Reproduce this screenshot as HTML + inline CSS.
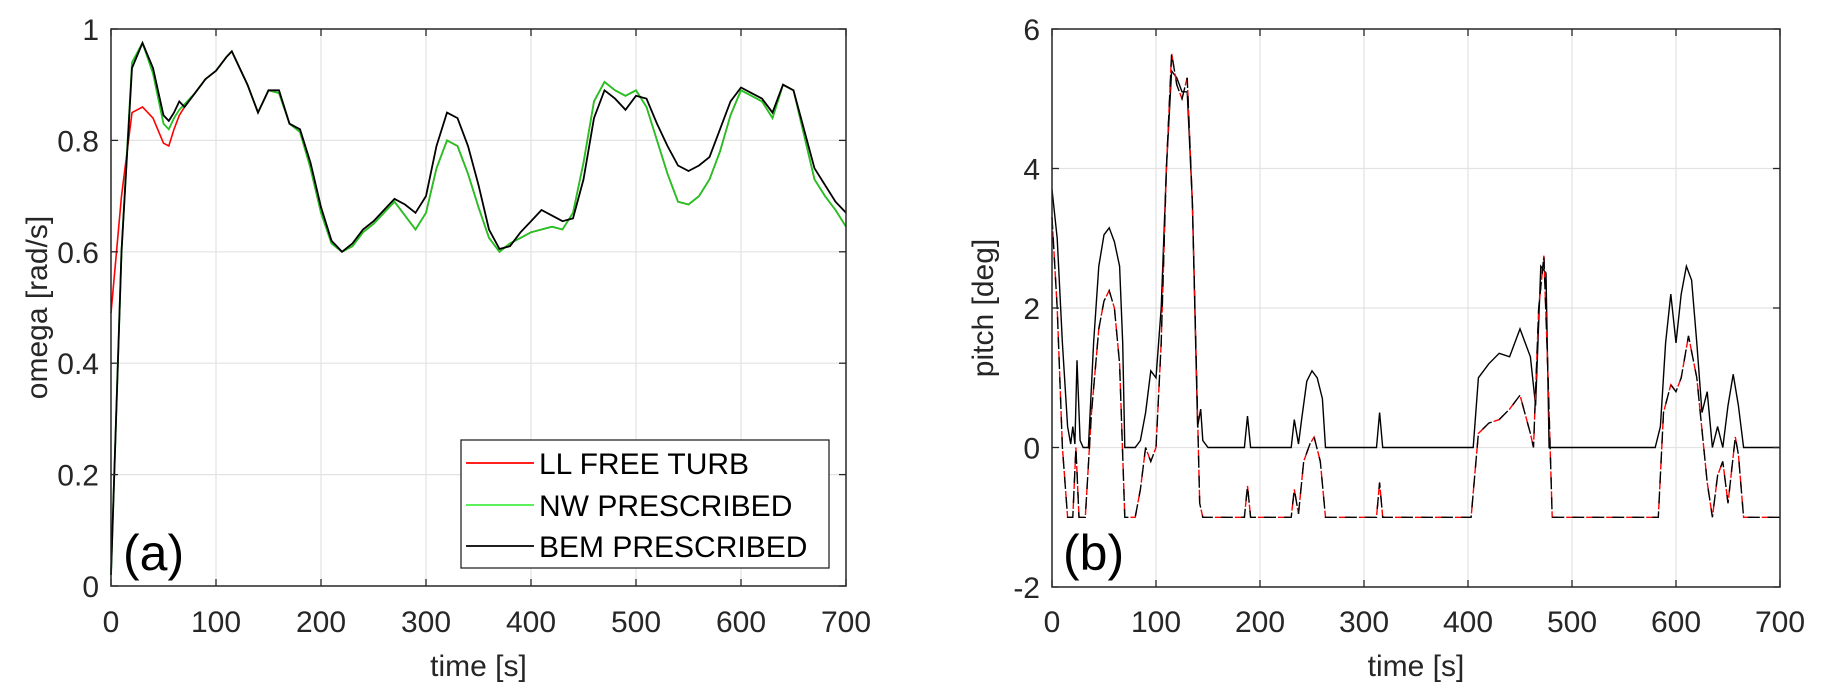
<!DOCTYPE html>
<html><head><meta charset="utf-8"><style>
html,body{margin:0;padding:0;background:#fff;}
svg{display:block;font-family:"Liberation Sans",sans-serif;}
</style></head><body>
<svg id="fig" width="1825" height="698" viewBox="0 0 1825 698" xmlns="http://www.w3.org/2000/svg">
<rect width="1825" height="698" fill="#fff"/>
<g id="left"></g>
<g id="right"></g>
</svg>
<script>
const xTicks=[0,100,200,300,400,500,600,700];
const omegaTicks=[0,0.2,0.4,0.6,0.8,1];
const omegaTickLabels=["0","0.2","0.4","0.6","0.8","1"];
const pitchTicks=[-2,0,2,4,6];
const pitchTickLabels=["-2","0","2","4","6"];

const bemT=[0,10,20,30,40,50,55,60,65,70,80,90,100,110,115,120,130,140,150,160,170,180,190,200,210,220,230,240,250,260,270,280,290,300,310,320,330,340,350,360,370,380,390,400,410,420,430,440,450,460,470,480,490,500,510,520,530,540,550,560,570,580,590,600,610,620,630,640,650,660,670,680,690,700];
const bemOmega=[0.02,0.6,0.93,0.975,0.93,0.845,0.835,0.85,0.87,0.86,0.885,0.91,0.925,0.95,0.96,0.94,0.9,0.85,0.89,0.89,0.83,0.82,0.76,0.68,0.62,0.6,0.615,0.64,0.655,0.675,0.695,0.685,0.67,0.7,0.79,0.85,0.84,0.79,0.72,0.64,0.605,0.61,0.635,0.655,0.675,0.665,0.655,0.66,0.73,0.84,0.89,0.875,0.855,0.88,0.875,0.83,0.79,0.755,0.745,0.755,0.77,0.82,0.87,0.895,0.885,0.875,0.85,0.9,0.89,0.82,0.75,0.72,0.69,0.67];
const nwOmega=[0.02,0.6,0.94,0.975,0.92,0.83,0.82,0.84,0.855,0.865,0.885,0.91,0.925,0.95,0.96,0.94,0.9,0.85,0.89,0.885,0.83,0.815,0.75,0.67,0.615,0.6,0.61,0.635,0.65,0.67,0.69,0.665,0.64,0.67,0.75,0.8,0.79,0.74,0.68,0.625,0.6,0.615,0.625,0.635,0.64,0.645,0.64,0.67,0.76,0.87,0.905,0.89,0.88,0.89,0.86,0.8,0.74,0.69,0.685,0.7,0.73,0.78,0.845,0.89,0.88,0.87,0.84,0.9,0.89,0.81,0.73,0.7,0.675,0.645];
const llOmega=[0.49,0.7,0.85,0.86,0.84,0.795,0.79,0.82,0.845,0.86,0.885,0.91,0.925,0.95,0.96,0.94,0.9,0.85,0.89,0.885,0.83,0.815,0.75,0.67,0.615,0.6,0.61,0.635,0.65,0.67,0.69,0.665,0.64,0.67,0.75,0.8,0.79,0.74,0.68,0.625,0.6,0.615,0.625,0.635,0.64,0.645,0.64,0.67,0.76,0.87,0.905,0.89,0.88,0.89,0.86,0.8,0.74,0.69,0.685,0.7,0.73,0.78,0.845,0.89,0.88,0.87,0.84,0.9,0.89,0.81,0.73,0.7,0.675,0.645];

const solidT=[0,5,10,15,18,20,22,24,27,30,35,40,45,50,55,60,65,68,70,80,85,90,95,100,105,110,115,120,125,130,135,140,143,145,150,185,188,191,230,233,237,240,245,250,255,260,263,312,315,318,405,410,420,430,440,450,460,465,470,475,478,500,580,585,590,595,600,605,610,615,620,625,630,635,640,645,650,655,660,665,700];
const solidPitch=[3.7,3.0,1.5,0.3,0.05,0.3,0.05,1.25,0.1,0,0,1.5,2.6,3.05,3.15,2.95,2.6,1.5,0,0,0.1,0.5,1.1,1.0,2.0,4.0,5.4,5.3,5.1,5.1,3.5,0.3,0.55,0.1,0,0,0.45,0,0,0.4,0.05,0.4,0.95,1.1,1.0,0.7,0,0,0.5,0,0,1.0,1.2,1.35,1.3,1.7,1.3,0.6,2.6,2.5,0,0,0,0.3,1.5,2.2,1.5,2.2,2.6,2.4,1.5,0.5,0.8,0,0.3,0,0.6,1.05,0.6,0,0];
const dashT=[0,5,10,15,20,23,26,32,38,45,50,55,60,65,70,80,85,90,95,100,105,110,115,120,125,130,135,142,145,150,185,188,191,230,233,237,242,248,252,258,263,312,315,318,403,410,420,430,440,450,460,463,468,473,477,481,500,583,588,595,600,605,612,620,630,635,640,645,650,657,660,665,700];
const dashPitch=[3.3,2.0,0,-1,-1,0,-1,-1,0.5,1.7,2.1,2.25,2.0,1.2,-1,-1,-0.6,0,-0.2,0,1.5,4.0,5.65,5.2,5.0,5.3,3.5,-0.8,-1,-1,-1,-0.55,-1,-1,-0.6,-0.95,-0.2,0.05,0.15,-0.2,-1,-1,-0.5,-1,-1,0.2,0.35,0.4,0.55,0.75,0.2,0,2.0,2.75,1.0,-1,-1,-1,0.5,0.9,0.8,1.0,1.6,1.0,-0.5,-1,-0.4,-0.2,-0.8,0.15,-0.1,-1,-1];

const NS="http://www.w3.org/2000/svg";
function mk(parent,tag,attrs,name,inter){const e=document.createElementNS(NS,tag);for(const k in attrs)e.setAttribute(k,attrs[k]);


parent.appendChild(e);return e;}

function axes(g,L,R,T,B,ymin,ymax,yt){
 const sx=v=>L+(v-0)/700*(R-L), sy=v=>B-(v-ymin)/(ymax-ymin)*(B-T);
 xTicks.forEach(t=>{ if(t>0&&t<700) mk(g,'line',{x1:sx(t),x2:sx(t),y1:T,y2:B,stroke:'#e3e3e3','stroke-width':1.2},'x-grid-line');});
 yt.forEach(t=>{ if(t>ymin&&t<ymax) mk(g,'line',{x1:L,x2:R,y1:sy(t),y2:sy(t),stroke:'#e3e3e3','stroke-width':1.2},'y-grid-line');});
 return {sx,sy};
}
function frame(g,L,R,T,B,yt,ytl,ylabel,sx,sy,ylabX){
 mk(g,'rect',{x:L,y:T,width:R-L,height:B-T,fill:'none',stroke:'#262626','stroke-width':1.5},'axes-box');
 xTicks.forEach(t=>{const x=sx(t);
  mk(g,'line',{x1:x,x2:x,y1:B,y2:B-7,stroke:'#262626','stroke-width':1.3},'x-tick');
  mk(g,'line',{x1:x,x2:x,y1:T,y2:T+7,stroke:'#262626','stroke-width':1.3},'x-tick-top');
  const tx=mk(g,'text',{x:x,y:632,'font-size':30,'text-anchor':'middle',fill:'#262626'},'x-tick-label');tx.textContent=t;});
 yt.forEach((t,i)=>{const y=sy(t);
  mk(g,'line',{x1:L,x2:L+7,y1:y,y2:y,stroke:'#262626','stroke-width':1.3},'y-tick');
  mk(g,'line',{x1:R,x2:R-7,y1:y,y2:y,stroke:'#262626','stroke-width':1.3},'y-tick-right');
  const tx=mk(g,'text',{x:L-12,y:y+11,'font-size':30,'text-anchor':'end',fill:'#262626'},'y-tick-label');tx.textContent=ytl[i];});
 const xl=mk(g,'text',{x:(L+R)/2,y:676,'font-size':30,'text-anchor':'middle',fill:'#262626'},'x-axis-title');xl.textContent='time [s]';
 const yl=mk(g,'text',{x:0,y:0,'font-size':30,'text-anchor':'middle',fill:'#262626',transform:`translate(${ylabX},${(T+B)/2}) rotate(-90)`},'y-axis-title');yl.textContent=ylabel;
}
function path(g,T,V,sx,sy,attrs,name){let d='';T.forEach((t,i)=>{d+=(i?'L':'M')+sx(t).toFixed(1)+','+sy(V[i]).toFixed(1);});
 return mk(g,'path',Object.assign({d:d,fill:'none'},attrs),name);}

const gl=document.getElementById('left');
let a=axes(gl,111,846,29,586,0,1,omegaTicks);
path(gl,bemT,llOmega,a.sx,a.sy,{stroke:'#ff0000','stroke-width':1.6},'ll-free-turb-line');
path(gl,bemT,nwOmega,a.sx,a.sy,{stroke:'#22c322','stroke-width':1.8},'nw-prescribed-line');
path(gl,bemT,bemOmega,a.sx,a.sy,{stroke:'#000','stroke-width':1.8},'bem-prescribed-line');
frame(gl,111,846,29,586,omegaTicks,omegaTickLabels,'omega [rad/s]',a.sx,a.sy,47);
const lgG=mk(gl,'g',{},'legend',false);
mk(lgG,'rect',{x:461,y:440,width:368,height:128,fill:'#fff',stroke:'#262626','stroke-width':1.3},'legend-box');
[['LL FREE TURB','#ff0000',463],['NW PRESCRIBED','#44ee44',505],['BEM PRESCRIBED','#000',546]].forEach(e=>{
 mk(lgG,'line',{x1:466,x2:534,y1:e[2],y2:e[2],stroke:e[1],'stroke-width':1.8},'legend-swatch');
 const t=mk(lgG,'text',{x:539,y:e[2]+11,'font-size':30,fill:'#000'},'legend-entry');t.textContent=e[0];});
const la=mk(gl,'text',{x:123,y:570,'font-size':50,fill:'#000'},'panel-label-a');la.textContent='(a)';

const gr=document.getElementById('right');
let b=axes(gr,1052,1780,29,587,-2,6,pitchTicks);
path(gr,solidT,solidPitch,b.sx,b.sy,{stroke:'#000','stroke-width':1.4},'bem-pitch-line');
path(gr,dashT,dashPitch,b.sx,b.sy,{stroke:'#ff0000','stroke-width':1.4,'stroke-dasharray':'12 8','stroke-dashoffset':6},'ll-pitch-line');
path(gr,dashT,dashPitch,b.sx,b.sy,{stroke:'#000','stroke-width':1.4,'stroke-dasharray':'12 8'},'nw-pitch-line');
frame(gr,1052,1780,29,587,pitchTicks,pitchTickLabels,'pitch [deg]',b.sx,b.sy,993);
const lb=mk(gr,'text',{x:1063,y:570,'font-size':50,fill:'#000'},'panel-label-b');lb.textContent='(b)';
</script>
</body></html>
